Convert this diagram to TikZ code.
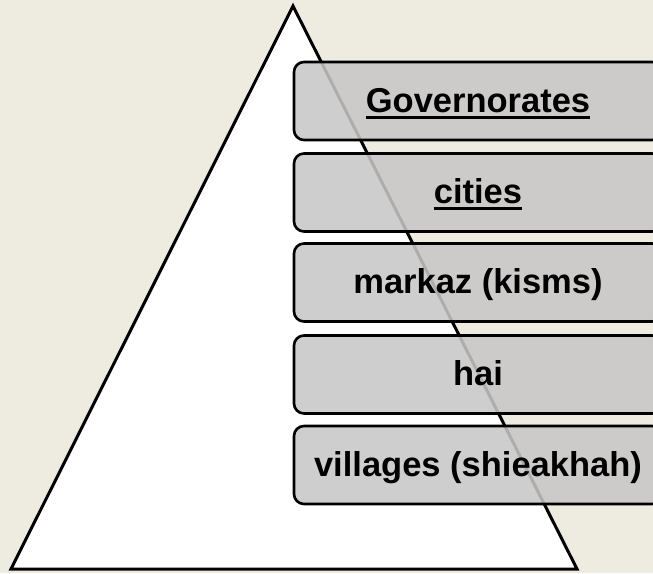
\documentclass[tikz,border=0pt]{standalone}
\usepackage{fontspec}
\setmainfont{Liberation Sans}
\definecolor{bgtan}{HTML}{EEECE1}
\definecolor{boxgray}{RGB}{199,199,199}
\newcommand{\myul}[1]{\setbox0\hbox{#1}\rlap{\rule[-6.5pt]{\wd0}{3pt}}\box0}
\tikzset{
  levelbox/.style={draw=black, line width=2.6pt, rounded corners=10pt, fill=boxgray,
    fill opacity=0.87, text opacity=1, minimum width=368pt, minimum height=78pt,
    text height=22pt, text depth=0pt, inner sep=0pt,
    font=\fontsize{34.5}{40}\selectfont\bfseries},
  tri/.style={draw=black, line width=3pt, fill=white, line join=miter}
}
\begin{document}
\begin{tikzpicture}[x=1pt,y=-1pt]
\fill[bgtan] (0,0) rectangle (653,573);
\useasboundingbox (0,0) rectangle (653,573);
\clip (0,0) rectangle (653,573);
\coordinate (apex) at (293,6);
\coordinate (bl) at (11,569);
\coordinate (br) at (577,569);
\draw[tri] (apex) -- (bl) -- (br) -- cycle;
\node[levelbox] (gov) at (478,101) {\myul{Governorates}};
\node[levelbox] (cit) at (478,192.5) {\myul{cities}};
\node[levelbox] (mar) at (478,282.5) {markaz (kisms)};
\node[levelbox] (hai) at (478,374.5) {hai};
\node[levelbox] (vil) at (478,465) {villages (shieakhah)};
\end{tikzpicture}
\end{document}
